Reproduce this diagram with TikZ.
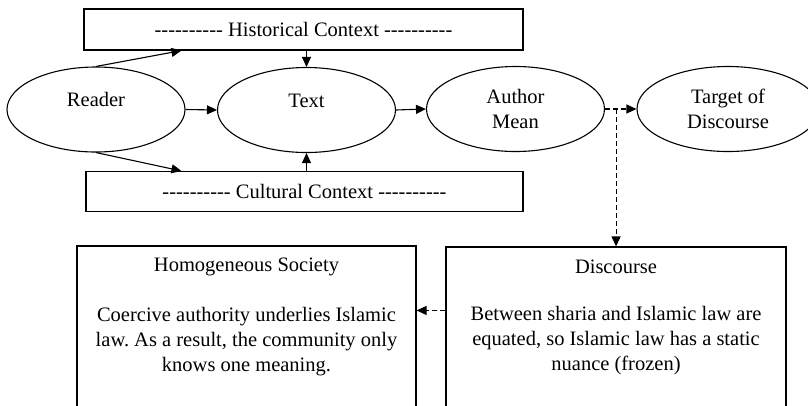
\documentclass[tikz,border=0pt]{standalone}
\usepackage{fontspec}
\setmainfont{Liberation Serif}[Ligatures=TeXOff]
\usetikzlibrary{arrows.meta,calc,shapes.geometric}

\tikzset{
  box/.style={draw, line width=1.1pt, inner sep=0pt},
  oval/.style={draw, ellipse, line width=1.1pt, minimum width=178pt,
    minimum height=85pt, align=center, inner sep=0pt},
  arr/.style={line width=1.1pt, -{Triangle[length=10pt,width=9pt]}},
  darr/.style={arr, dash pattern=on 5pt off 3pt},
}

\begin{document}
\frenchspacing
\begin{tikzpicture}[x=1pt, y=-1pt, font=\fontsize{20.5}{25}\selectfont]
\clip (0,0) rectangle (808,405);

\node[box, minimum width=439pt, minimum height=41pt] (hist) at (303.5,29.5)
  {---------- Historical Context ----------};
\node[box, minimum width=437pt, minimum height=40pt] (cult) at (304.5,191.5)
  {---------- Cultural Context ----------};

\node[oval, text height=14pt, text depth=20pt] (reader) at (96,109.5) {Reader};
\node[oval, text height=14pt, text depth=20pt] (text) at (306.5,110) {Text};
\node[oval] (author) at (515.5,109) {Author\\Mean};
\node[oval, minimum width=182pt] (target) at (728,109) {Target of\\Discourse};

\node[box, minimum width=339pt, minimum height=174pt] (homog) at (246.5,333) {};
\node (homogtitle) at ([yshift=-21pt]homog.north) {Homogeneous Society};
\node[align=center] (homogbody) at ([yshift=-96pt]homog.north)
  {Coercive authority underlies Islamic\\law. As a result, the community only\\knows one meaning.};

\node[box, minimum width=340pt, minimum height=173pt] (disc) at (616,333.5) {};
\node (disctitle) at ([yshift=-20pt]disc.north) {Discourse};
\node[align=center] (discbody) at ([yshift=-94pt]disc.north)
  {Between sharia and Islamic law are\\equated, so Islamic law has a static\\nuance (frozen)};

\draw[arr] (reader.north) -- ([xshift=98pt]hist.south west);
\draw[arr] (reader.south) -- ([xshift=96pt]cult.north west);
\draw[arr] (reader.east) -- (text.west);
\draw[arr] (text.north |- hist.south) -- (text.north);
\draw[arr] (text.south |- cult.north) -- (text.south);
\draw[arr] (text.east) -- (author.west);

\coordinate (split) at ([xshift=11pt]author.east);
\coordinate (back) at ([yshift=-64pt]disc.north west);
\draw[darr] (author.east) -- (target.west);
\draw[darr] (split) -- (split |- disc.north);
\draw[darr] (back) -- (back -| homog.east);
\end{tikzpicture}
\end{document}
